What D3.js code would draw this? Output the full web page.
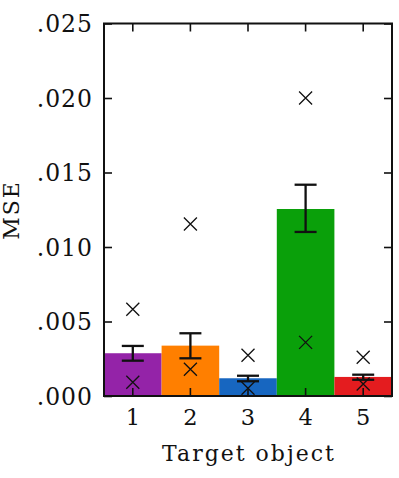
<!DOCTYPE html>
<html>
<head>
<meta charset="utf-8">
<script src="https://cdn.jsdelivr.net/npm/d3@7"></script>
<style>
  html, body { margin: 0; padding: 0; background: #fff; }
  svg { display: block; }
  text { font-family: "DejaVu Serif", serif; fill: #111; }
</style>
</head>
<body>
<script>
const categories = ["1", "2", "3", "4", "5"];
const means    = [0.00287, 0.00338, 0.00119, 0.01255, 0.00128];
const errLow   = [0.00237, 0.00253, 0.00099, 0.01101, 0.00109];
const errHigh  = [0.00336, 0.00421, 0.00136, 0.01418, 0.00143];
const maxVals  = [0.00582, 0.01154, 0.00273, 0.02000, 0.00260];
const minVals  = [0.00092, 0.00179, 0.00052, 0.00360, 0.00080];
const colors   = ["#9423a8", "#ff7f00", "#1766c0", "#0aa00a", "#e41c1f"];
const yTicks   = [0, 0.005, 0.010, 0.015, 0.020, 0.025];
const yLabel = "MSE";
const xLabel = "Target object";

const W = 399, H = 478;
const m = { left: 104, right: 7, top: 23.5, bottom: 82 };
const iw = W - m.left - m.right, ih = H - m.top - m.bottom;

const svg = d3.select("body").append("svg").attr("width", W).attr("height", H);
const g = svg.append("g").attr("transform", `translate(${m.left},${m.top})`);

const x = d3.scaleBand().domain(categories).range([0, iw]).padding(0);
const y = d3.scaleLinear().domain([0, 0.025]).range([ih, 0]);

const data = categories.map((c, i) => ({
  c, mean: means[i], lo: errLow[i], hi: errHigh[i], mx: maxVals[i], mn: minVals[i], color: colors[i]
}));

// bars
g.selectAll("rect.bar").data(data).join("rect")
  .attr("class", "bar")
  .attr("x", d => x(d.c))
  .attr("width", x.bandwidth())
  .attr("y", d => y(d.mean))
  .attr("height", d => y(0) - y(d.mean))
  .attr("fill", d => d.color);

const fmt = v => d3.format(".3f")(v).replace(/^0/, "");

// axes
const yAxis = g.append("g")
  .call(d3.axisLeft(y).tickValues(yTicks).tickFormat(fmt).tickSize(-8).tickPadding(11));
yAxis.selectAll("text").style("font-size", "23.5px").style("letter-spacing", "1px")
  .attr("dy", "0.36em");

const yAxisR = g.append("g").attr("transform", `translate(${iw},0)`)
  .call(d3.axisRight(y).tickValues(yTicks).tickFormat("").tickSize(-8));

const xAxis = g.append("g").attr("transform", `translate(0,${ih})`)
  .call(d3.axisBottom(x).tickSize(-8).tickPadding(13.5));
xAxis.selectAll("text").style("font-size", "22.5px");

const xAxisT = g.append("g")
  .call(d3.axisTop(x).tickFormat("").tickSize(-8));

[yAxis, yAxisR, xAxis, xAxisT].forEach(a => {
  a.select(".domain").remove();
  a.selectAll(".tick line").attr("stroke", "#111").attr("stroke-width", 1.6);
});

// error bars
const cap = 11;
const eb = g.selectAll("g.eb").data(data).join("g").attr("class", "eb")
  .attr("transform", d => `translate(${x(d.c) + x.bandwidth() / 2},0)`);
eb.append("line").attr("x1", 0).attr("x2", 0)
  .attr("y1", d => y(d.lo)).attr("y2", d => y(d.hi))
  .attr("stroke", "#111").attr("stroke-width", 2.3);
eb.append("line").attr("x1", -cap).attr("x2", cap)
  .attr("y1", d => y(d.lo)).attr("y2", d => y(d.lo))
  .attr("stroke", "#111").attr("stroke-width", 2.3);
eb.append("line").attr("x1", -cap).attr("x2", cap)
  .attr("y1", d => y(d.hi)).attr("y2", d => y(d.hi))
  .attr("stroke", "#111").attr("stroke-width", 2.3);

// x markers (max and min)
const s = 6.5;
function cross(sel, acc) {
  sel.append("path")
    .attr("d", d => {
      const cy = y(acc(d));
      return `M${-s},${cy - s}L${s},${cy + s}M${-s},${cy + s}L${s},${cy - s}`;
    })
    .attr("stroke", "#111").attr("stroke-width", 1.3).attr("fill", "none");
}
cross(eb, d => d.mx);
cross(eb, d => d.mn);

// frame
g.append("rect").attr("x", 0).attr("y", 0).attr("width", iw).attr("height", ih)
  .attr("fill", "none").attr("stroke", "#111").attr("stroke-width", 2);

// axis labels
svg.append("text")
  .attr("transform", `translate(19,210) rotate(-90)`)
  .attr("text-anchor", "middle")
  .style("font-size", "22px")
  .style("letter-spacing", "2px")
  .text(yLabel);

svg.append("text")
  .attr("x", m.left + iw / 2 + 1)
  .attr("y", 461)
  .attr("text-anchor", "middle")
  .style("font-size", "22px")
  .style("letter-spacing", "2px")
  .text(xLabel);
</script>
</body>
</html>
